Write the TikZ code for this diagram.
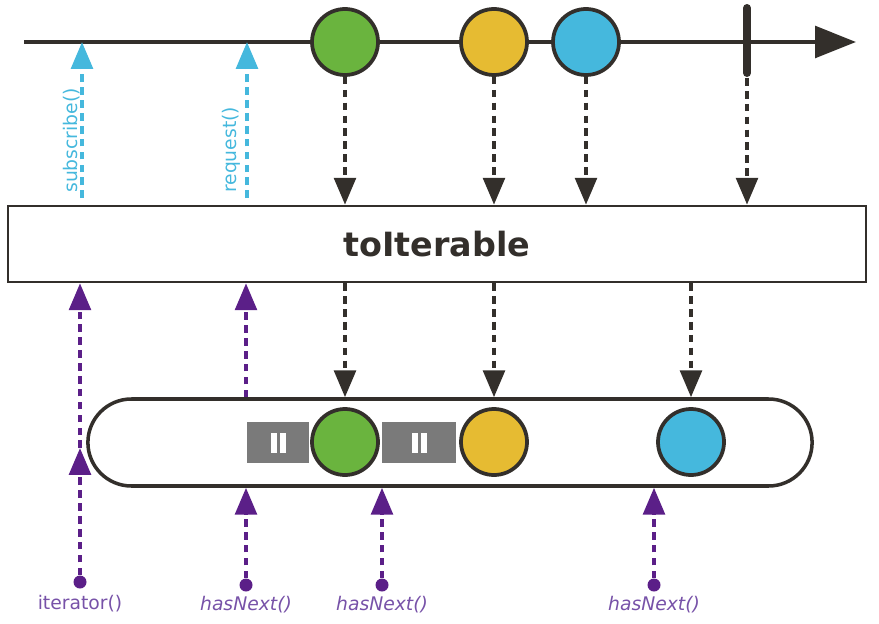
\documentclass[tikz,border=0pt]{standalone}
\usepackage{fontspec}
\setmainfont{DejaVu Sans}
\usepackage{tikz}
\usetikzlibrary{arrows.meta,positioning,calc,shapes.misc}
\definecolor{rxdark}{HTML}{332F2B}
\definecolor{rxgreen}{HTML}{6AB43E}
\definecolor{rxyellow}{HTML}{E6BB32}
\definecolor{rxblue}{HTML}{45B8DD}
\definecolor{rxgray}{HTML}{7A7A7A}
\definecolor{rxpurple}{HTML}{5B1F88}
\definecolor{rxlilac}{HTML}{7752A8}
\def\px{0.03cm}

\begin{document}
\begin{tikzpicture}[
  x=0.03cm, y=-0.03cm,
  marble/.style={circle, draw=rxdark, line width=3.2pt, inner sep=0pt,
                 minimum size=66*\px},
  emit/.style={-{Triangle[width=18.5pt,length=23pt]}, rxdark, line width=3.3pt,
               dash pattern=on 6.5pt off 4.5pt},
  callup/.style={emit, rxblue},
  pull/.style={emit, rxpurple},
  knob/.style={circle, fill=rxpurple, inner sep=0pt, minimum size=13*\px},
  pausebox/.style={fill=rxgray, inner sep=0pt, minimum height=41*\px},
  callname/.style={font=\fontsize{16}{19}\selectfont, text=rxblue, inner sep=0pt},
  pullname/.style={font=\fontsize{16}{19}\selectfont, text=rxlilac,
                   inner sep=0pt, anchor=base}
]
\useasboundingbox (0,0) rectangle (879,623);

% ---- Operator box and buffer ----
\node[draw=rxdark, line width=2.2pt, minimum width=858*\px, minimum height=76*\px,
      font=\fontsize{28.5}{32}\selectfont\bfseries, text=rxdark]
  (op) at (437,244) {toIterable};
\node[rounded rectangle, draw=rxdark, line width=3pt,
      minimum width=732*\px, minimum height=87*\px]
  (buffer) at (450,442.5) {};

% ---- Source timeline ----
\coordinate (tstart) at (24,42);
\coordinate (tend) at (856,42);
\draw[rxdark, line width=3.3pt, -{Triangle[width=27pt,length=35pt]}] (tstart) -- (tend);

% ---- Upstream calls ----
\foreach \x/\lbl/\lx in {82/subscribe()/77, 247/request()/236} {
  \coordinate (call\x) at (\x,198);
  \draw[callup] (call\x) -- (call\x |- tstart);
  \node[callname, rotate=90, anchor=base west] at (\lx,193) {\lbl};
}

% ---- Emitted items ----
\foreach \name/\x/\col in {g/345/rxgreen, y/494/rxyellow, b/586/rxblue} {
  \node[marble, fill=\col] (top\name) at (\x,42) {};
  \draw[emit] (top\name.south) -- (top\name.south |- op.north);
}
\coordinate (doneTop) at (747,8);
\coordinate (doneBot) at (747,73);
\draw[rxdark, line width=6.8pt, line cap=round] (doneTop) -- (doneBot);
\draw[emit] ($(doneBot)+(0,5)$) -- (doneBot |- op.north);

% ---- Buffered items ----
\node[pausebox, minimum width=62*\px] (p1) at (278,442.5) {};
\node[pausebox, minimum width=74*\px] (p2) at (419,442.5) {};
\foreach \p in {p1, p2} {
  \fill[white] ($(\p)+(-7,-10)$) rectangle ($(\p)+(-1,10)$);
  \fill[white] ($(\p)+(1.5,-10)$) rectangle ($(\p)+(7.5,10)$);
}
\foreach \name/\x/\col in {g/345/rxgreen, y/494/rxyellow, b/691/rxblue} {
  \node[marble, fill=\col] (in\name) at (\x,442) {};
  \draw[emit] (in\name |- op.south) -- (in\name |- buffer.north);
}

% ---- Iterator calls ----
\node[knob] (it0) at (80,582) {};
\coordinate (itmid) at (80,448);
\draw[pull] (it0) -- (itmid);
\draw[pull] (itmid) -- (itmid |- op.south);
\node[pullname] at (80,609) {iterator()};

\foreach \x in {246, 382, 654} {
  \node[knob] (hn\x) at (\x,585) {};
  \draw[pull] (hn\x) -- (hn\x |- buffer.south);
  \node[pullname, font=\fontsize{16}{19}\selectfont\itshape] at (\x,610) {hasNext()};
}
\draw[pull] (hn246 |- buffer.north) -- (hn246 |- op.south);

\end{tikzpicture}
\end{document}
